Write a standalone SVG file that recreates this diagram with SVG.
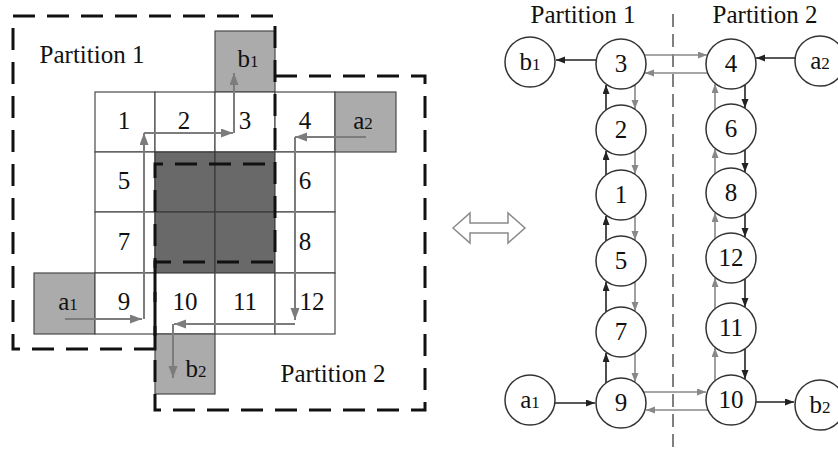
<svg xmlns="http://www.w3.org/2000/svg" width="838" height="452" viewBox="0 0 838 452">
<defs>
<style>
.cell{fill:#fff;stroke:#4a4a4a;stroke-width:1.2}
.lg{fill:#ababab;stroke:#4a4a4a;stroke-width:1.2}
.dk{fill:#696969;stroke:#3a3a3a;stroke-width:1.2}
.part{fill:none;stroke:#111;stroke-width:3;stroke-dasharray:22 12}
.ga{fill:none;stroke:#7c7c7c;stroke-width:2;marker-end:url(#mg)}
.t{font-family:"Liberation Serif","Times New Roman",serif;font-size:25px;fill:#111;text-anchor:middle}
.s{font-size:17px}
.nd{fill:#fff;stroke:#333;stroke-width:1.5}
.eb{fill:none;stroke:#222;stroke-width:1.6;marker-end:url(#mb)}
.eg{fill:none;stroke:#888;stroke-width:1.6;marker-end:url(#mgs)}
</style>
<marker id="mg" markerUnits="userSpaceOnUse" markerWidth="13" markerHeight="10" refX="12" refY="4.5" orient="auto"><path d="M0,0 L12,4.5 L0,9 z" fill="#7c7c7c"/></marker>
<marker id="mb" markerUnits="userSpaceOnUse" markerWidth="10" markerHeight="8" refX="9" refY="3.5" orient="auto"><path d="M0,0 L9,3.5 L0,7 z" fill="#222"/></marker>
<marker id="mgs" markerUnits="userSpaceOnUse" markerWidth="10" markerHeight="8" refX="9" refY="3.5" orient="auto"><path d="M0,0 L9,3.5 L0,7 z" fill="#888"/></marker>
</defs>
<rect width="838" height="452" fill="#fff"/>

<!-- Left grid -->
<g id="grid">
<rect class="lg" x="215" y="31" width="60" height="61"/>
<rect class="cell" x="95" y="92" width="60" height="60"/>
<rect class="cell" x="155" y="92" width="60" height="60"/>
<rect class="cell" x="215" y="92" width="60" height="60"/>
<rect class="cell" x="275" y="92" width="60" height="60"/>
<rect class="lg" x="335" y="92" width="61" height="60"/>
<rect class="cell" x="95" y="152" width="60" height="60"/>
<rect class="dk" x="155" y="152" width="60" height="60"/>
<rect class="dk" x="215" y="152" width="60" height="60"/>
<rect class="cell" x="275" y="152" width="60" height="60"/>
<rect class="cell" x="95" y="212" width="60" height="61"/>
<rect class="dk" x="155" y="212" width="60" height="61"/>
<rect class="dk" x="215" y="212" width="60" height="61"/>
<rect class="cell" x="275" y="212" width="60" height="61"/>
<rect class="lg" x="34" y="273" width="61" height="61"/>
<rect class="cell" x="95" y="273" width="60" height="61"/>
<rect class="cell" x="155" y="273" width="60" height="61"/>
<rect class="cell" x="215" y="273" width="60" height="61"/>
<rect class="cell" x="275" y="273" width="60" height="61"/>
<rect class="lg" x="155" y="334" width="60" height="60"/>
<text class="t" x="248" y="67">b<tspan class="s">1</tspan></text>
<text class="t" x="124" y="129">1</text>
<text class="t" x="184" y="129">2</text>
<text class="t" x="245" y="129">3</text>
<text class="t" x="305" y="129">4</text>
<text class="t" x="363" y="129">a<tspan class="s">2</tspan></text>
<text class="t" x="124" y="189">5</text>
<text class="t" x="305" y="189">6</text>
<text class="t" x="124" y="250">7</text>
<text class="t" x="305" y="250">8</text>
<text class="t" x="68" y="310">a<tspan class="s">1</tspan></text>
<text class="t" x="124" y="310">9</text>
<text class="t" x="185" y="310">10</text>
<text class="t" x="245" y="310">11</text>
<text class="t" x="312" y="310">12</text>
<text class="t" x="196" y="377">b<tspan class="s">2</tspan></text>
</g>

<g id="grid-paths">
<path class="ga" d="M65,319 H142"/>
<path class="ga" d="M144,319 V133"/>
<path class="ga" d="M144,133 H233"/>
<path class="ga" d="M234,133 V73"/>
<path class="ga" d="M366,137 H295"/>
<path class="ga" d="M295,137 V320"/>
<path class="ga" d="M295,324 H174"/>
<path class="ga" d="M173,324 V378"/>
</g>

<g id="partitions">
<path class="part" d="M13,16 H275 V262 H155 V349 H13 Z"/>
<path class="part" d="M275,76 H425 V410 H155 V164 H275"/>
<text class="t" x="92" y="63">Partition 1</text>
<text class="t" x="333" y="382">Partition 2</text>
</g>

<g id="double-arrow">
<polygon points="453,228 470,213 470,223 508,223 508,213 525,228 508,243 508,233 470,233 470,243" fill="#fff" stroke="#8a8a8a" stroke-width="1.5"/>
</g>

<!-- Right graph -->
<text class="t" x="583" y="23">Partition 1</text>
<text class="t" x="765" y="23">Partition 2</text>
<line x1="673" y1="14" x2="673" y2="452" stroke="#555" stroke-width="1.5" stroke-dasharray="13 7"/>

<g id="connectors">
<path class="eb" d="M596,60 H556"/>
<path class="eg" d="M644,55 H707"/>
<path class="eg" d="M708,73 H645"/>
<path class="eb" d="M795,58 H756"/>
<path class="eb" d="M555,403 H595"/>
<path class="eg" d="M643,392 H706"/>
<path class="eg" d="M708,410 H646"/>
<path class="eb" d="M756,402 H794"/>
<path class="eb" d="M606,383 V353"/>
<path class="eb" d="M606,312 V282"/>
<path class="eb" d="M606,241 V216"/>
<path class="eb" d="M606,175 V151"/>
<path class="eb" d="M606,110 V85"/>
<path class="eg" d="M635,85 V109"/>
<path class="eg" d="M635,151 V174"/>
<path class="eg" d="M635,216 V240"/>
<path class="eg" d="M635,282 V311"/>
<path class="eg" d="M635,353 V382"/>
<path class="eg" d="M715,381 V348"/>
<path class="eg" d="M715,309 V278"/>
<path class="eg" d="M715,239 V213"/>
<path class="eg" d="M715,174 V149"/>
<path class="eg" d="M715,110 V84"/>
<path class="eb" d="M745,85 V108"/>
<path class="eb" d="M745,150 V172"/>
<path class="eb" d="M745,214 V237"/>
<path class="eb" d="M745,279 V307"/>
<path class="eb" d="M745,349 V379"/>
</g>

<g id="n-b1"><circle class="nd" cx="530" cy="62" r="25"/><text class="t" x="530" y="70">b<tspan class="s">1</tspan></text></g>
<g id="n-3"><circle class="nd" cx="621" cy="64" r="25"/><text class="t" x="621" y="72">3</text></g>
<g id="n-2"><circle class="nd" cx="621" cy="130" r="25"/><text class="t" x="621" y="138">2</text></g>
<g id="n-1"><circle class="nd" cx="621" cy="195" r="25"/><text class="t" x="621" y="203">1</text></g>
<g id="n-5"><circle class="nd" cx="621" cy="261" r="25"/><text class="t" x="621" y="269">5</text></g>
<g id="n-7"><circle class="nd" cx="621" cy="332" r="25"/><text class="t" x="621" y="340">7</text></g>
<g id="n-9"><circle class="nd" cx="621" cy="403" r="25"/><text class="t" x="621" y="411">9</text></g>
<g id="n-a1"><circle class="nd" cx="530" cy="400" r="25"/><text class="t" x="530" y="408">a<tspan class="s">1</tspan></text></g>
<g id="n-4"><circle class="nd" cx="731" cy="64" r="25"/><text class="t" x="731" y="72">4</text></g>
<g id="n-6"><circle class="nd" cx="731" cy="129" r="25"/><text class="t" x="731" y="137">6</text></g>
<g id="n-8"><circle class="nd" cx="731" cy="193" r="25"/><text class="t" x="731" y="201">8</text></g>
<g id="n-12"><circle class="nd" cx="731" cy="258" r="25"/><text class="t" x="731" y="266">12</text></g>
<g id="n-11"><circle class="nd" cx="731" cy="328" r="25"/><text class="t" x="731" y="336">11</text></g>
<g id="n-10"><circle class="nd" cx="731" cy="400" r="25"/><text class="t" x="731" y="408">10</text></g>
<g id="n-a2"><circle class="nd" cx="820" cy="61" r="25"/><text class="t" x="820" y="69">a<tspan class="s">2</tspan></text></g>
<g id="n-b2"><circle class="nd" cx="820" cy="405" r="25"/><text class="t" x="820" y="413">b<tspan class="s">2</tspan></text></g>
</svg>
